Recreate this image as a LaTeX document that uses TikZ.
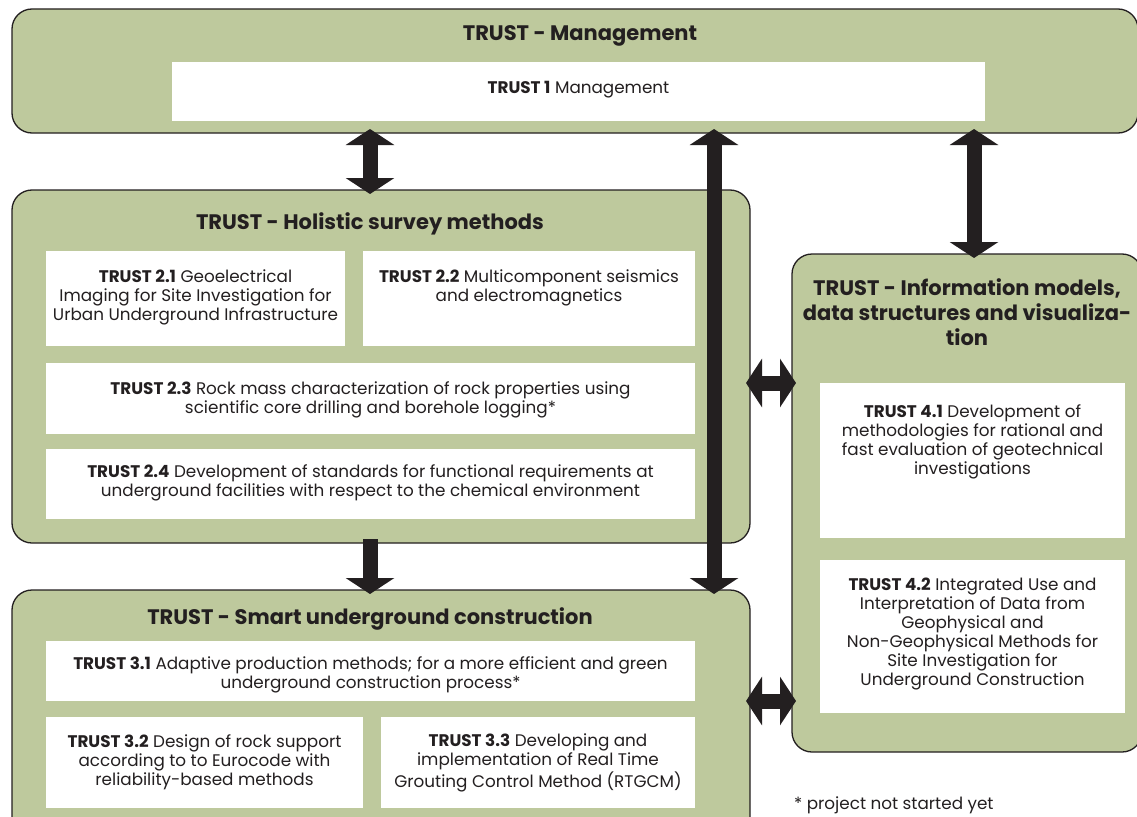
\documentclass[tikz,border=0pt]{standalone}
\usepackage{fontspec}
\setmainfont{Poppins}
\usetikzlibrary{
    positioning,
    arrows.meta
}
\definecolor{trustgreen}{RGB}{190,201,157}
\definecolor{trustblack}{RGB}{35,31,32}
\tikzset{%
    work package/.style={%
        rectangle,
        draw=trustblack,
        line width=1.3pt,
        rounded corners=20pt,
        fill=trustgreen,
        inner sep = 0pt,
        outer sep = 0pt,
        anchor=north west
    },
    project box/.style={%
        rectangle,
        fill=white,
        inner sep = 0pt,
        outer sep = 0pt,
        anchor=north west
    },
    package title/.style={%
        font=\fontsize{21}{25}\selectfont\bfseries,
        align=center,
        text=trustblack,
        inner sep = 0pt
    },
    project text/.style={%
        font=\fontsize{16.8}{19}\selectfont,
        align=center,
        text=trustblack,
        inner sep = 0pt
    },
    link/.style={%
        draw=trustblack,
        line width=15pt,
        shorten <=-4pt,
        shorten >=-4pt,
        -{Triangle[width=48pt, length=16pt]}
    },
    both link/.style={%
        link,
        {Triangle[width=48pt, length=16pt]}-{Triangle[width=48pt, length=16pt]}
    },
}

\begin{document}
\begin{tikzpicture}[x=1pt, y=-1pt]
    \useasboundingbox (0,0) rectangle (1137,816);

    % management
    \node[work package, minimum width=1126pt, minimum height=124pt] (mgmt) at (12,9) {};
    \node[package title] (mgmt title) at (580,36) {TRUST - Management};
    \node[project box, minimum width=813pt, minimum height=59pt] (p1) at (172,62) {};
    \node[project text, below=19pt of p1.north] (p1 text) {\textbf{TRUST 1} Management};

    % holistic survey methods
    \node[work package, minimum width=738pt, minimum height=353pt] (hol) at (12,190) {};
    \node[package title] (hol title) at (370,224) {TRUST - Holistic survey methods};
    \node[project box, minimum width=299pt, minimum height=95pt] (p21) at (46,251) {};
    \node[project box, minimum width=332pt, minimum height=95pt] (p22) at (363,251) {};
    \node[project box, minimum width=649pt, minimum height=71pt] (p23) at (46,363) {};
    \node[project box, minimum width=649pt, minimum height=70pt] (p24) at (46,449) {};
    \node[project text, below=19pt of p21.north] (p21 text) {\textbf{TRUST 2.1} Geoelectrical\\Imaging for Site Investigation for\\Urban Underground Infrastructure};
    \node[project text, below=19pt of p22.north] (p22 text) {\textbf{TRUST 2.2} Multicomponent seismics\\and electromagnetics};
    \node[project text, below=18pt of p23.north] (p23 text) {\textbf{TRUST 2.3} Rock mass characterization of rock properties using\\scientific core drilling and borehole logging*};
    \node[project text, below=15pt of p24.north] (p24 text) {\textbf{TRUST 2.4} Development of standards for functional requirements at\\underground facilities with respect to the chemical environment};

    % smart underground construction
    \node[work package, minimum width=738pt, minimum height=250pt] (smart) at (12,590) {};
    \node[package title] (smart title) at (370,619) {TRUST - Smart underground construction};
    \node[project box, minimum width=649pt, minimum height=60pt] (p31) at (46,641) {};
    \node[project box, minimum width=317pt, minimum height=91pt] (p32) at (46,717) {};
    \node[project box, minimum width=314pt, minimum height=91pt] (p33) at (381,717) {};
    \node[project text, below=15pt of p31.north] (p31 text) {\textbf{TRUST 3.1} Adaptive production methods; for a more efficient and green\\underground construction process*};
    \node[project text, below=17pt of p32.north] (p32 text) {\textbf{TRUST 3.2} Design of rock support\\according to to Eurocode with\\reliability-based methods};
    \node[project text, below=17pt of p33.north] (p33 text) {\textbf{TRUST 3.3} Developing and\\implementation of Real Time\\Grouting Control Method (RTGCM)};

    % information models
    \node[work package, minimum width=350pt, minimum height=498pt] (info) at (792,254) {};
    \node[package title, below=24pt of info.north] (info title) {TRUST - Information models,\\data structures and visualiza-\\tion};
    \node[project box, minimum width=305pt, minimum height=155pt] (p41) at (820,383) {};
    \node[project box, minimum width=305pt, minimum height=153pt] (p42) at (820,560) {};
    \node[project text, below=21pt of p41.north] (p41 text) {\textbf{TRUST 4.1} Development of\\methodologies for rational and\\fast evaluation of geotechnical\\investigations};
    \node[project text, below=18pt of p42.north] (p42 text) {\textbf{TRUST 4.2} Integrated Use and\\Interpretation of Data from\\Geophysical and\\Non-Geophysical Methods for\\Site Investigation for\\Underground Construction};

    \node[project text, anchor=west] (note) at (794,805) {* project not started yet};

    % links between the packages
    \coordinate (long link) at (714,0);
    \coordinate (info link) at (974,0);
    \draw[both link] (mgmt.south -| hol title) -- (hol.north -| hol title);
    \draw[link] (hol.south -| smart title) -- (smart.north -| smart title);
    \draw[both link] (mgmt.south -| long link) -- (smart.north -| long link);
    \draw[both link] (mgmt.south -| info link) -- (info.north -| info link);
    \draw[both link] (p41.north -| hol.east) -- (p41.north -| info.west);
    \draw[both link] (p31.south -| smart.east) -- (p31.south -| info.west);
\end{tikzpicture}
\end{document}
